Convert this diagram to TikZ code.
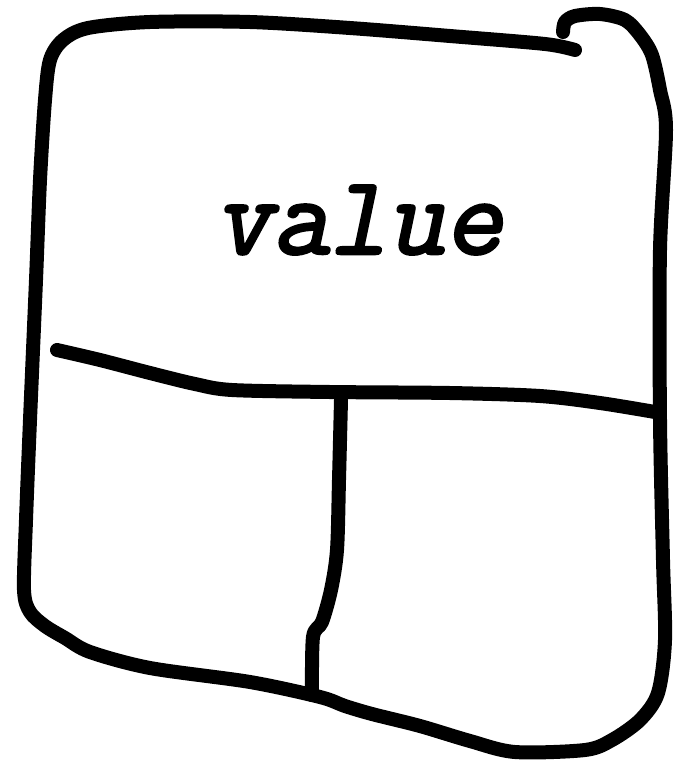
\documentclass[tikz,border=0pt]{standalone}
\usepackage{fontspec}
\newfontfamily\monoit[FakeBold=2.5,FakeSlant=0.21]{Latin Modern Mono}
\begin{document}
\begin{tikzpicture}[x=1pt,y=-1pt,
  stroke/.style={line width=14pt,line cap=round,line join=round,black}]
\useasboundingbox (0,0) rectangle (675,761);
% outer outline (top edge, left side, bottom)
\draw[stroke] plot[smooth,tension=0.5] coordinates {
 (575,50) (545,44) (450,36) (350,28) (250,22) (150,22) (88,28) (63,40) (50,60)
 (45,100) (40,180) (36,280) (30,420) (26,520) (24,590) (30,612) (45,626)
 (65,638) (90,652) (150,668) (250,682) (320,697) (345,706) (372,714)
 (420,726) (470,741) (515,752) (585,750) (612,740) (640,720) (658,693)
 (665,640) (663,560) (660,420) (660,250) (666,130) (660,90) (652,55)
 (640,35) (625,20) (600,14) (575,16) (565,22) (563,32)};
% horizontal divider
\draw[stroke] plot[smooth,tension=0.5] coordinates {
 (57,350) (100,360) (150,373) (195,384) (232,390) (330,392) (450,393)
 (540,396) (600,403) (655,412)};
% vertical divider
\draw[stroke] plot[smooth,tension=0.5] coordinates {
 (341,400) (339,480) (337,550) (331,590) (322,622) (313,637) (312,695)};
\node (label) at (358,220) {\fontsize{112}{112}\selectfont\monoit value};
\end{tikzpicture}
\end{document}
